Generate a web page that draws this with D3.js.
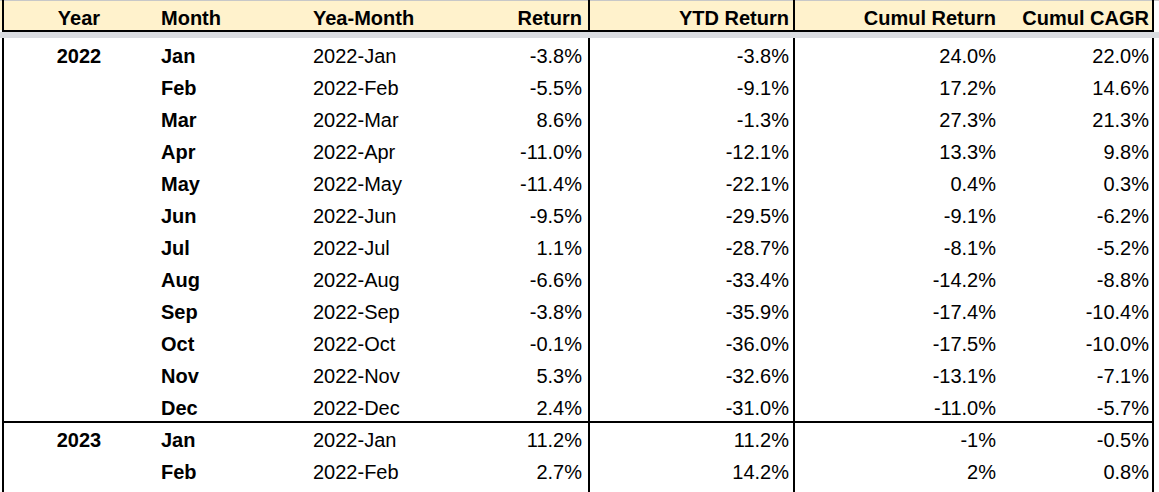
<!DOCTYPE html>
<html>
<head>
<meta charset="utf-8">
<script src="https://cdn.jsdelivr.net/npm/d3@7"></script>
<style>
  body { margin: 0; background: #fff; }
  text { font-family: "Liberation Sans", Arial, sans-serif; font-size: 20px; fill: #000; }
</style>
</head>
<body>
<script>
// table content
var headers = ["Year", "Month", "Yea-Month", "Return", "YTD Return", "Cumul Return", "Cumul CAGR"];
var years = ["2022", "", "", "", "", "", "", "", "", "", "", "", "2023", ""];
var months = ["Jan", "Feb", "Mar", "Apr", "May", "Jun", "Jul", "Aug", "Sep", "Oct", "Nov", "Dec", "Jan", "Feb"];
var yearMonth = ["2022-Jan", "2022-Feb", "2022-Mar", "2022-Apr", "2022-May", "2022-Jun", "2022-Jul",
  "2022-Aug", "2022-Sep", "2022-Oct", "2022-Nov", "2022-Dec", "2022-Jan", "2022-Feb"];
var returns = ["-3.8%", "-5.5%", "8.6%", "-11.0%", "-11.4%", "-9.5%", "1.1%", "-6.6%", "-3.8%", "-0.1%", "5.3%", "2.4%", "11.2%", "2.7%"];
var ytdReturn = ["-3.8%", "-9.1%", "-1.3%", "-12.1%", "-22.1%", "-29.5%", "-28.7%", "-33.4%", "-35.9%", "-36.0%", "-32.6%", "-31.0%", "11.2%", "14.2%"];
var cumulReturn = ["24.0%", "17.2%", "27.3%", "13.3%", "0.4%", "-9.1%", "-8.1%", "-14.2%", "-17.4%", "-17.5%", "-13.1%", "-11.0%", "-1%", "2%"];
var cumulCagr = ["22.0%", "14.6%", "21.3%", "9.8%", "0.3%", "-6.2%", "-5.2%", "-8.8%", "-10.4%", "-10.0%", "-7.1%", "-5.7%", "-0.5%", "0.8%"];

var width = 1159, height = 492;
var headH = 30, freezeH = 6, rowH = 32;

// column anchors and alignment
var cols = [
  {key: "year", x: 79, anchor: "middle", bold: true, vals: years},
  {key: "month", x: 161, anchor: "start", bold: true, vals: months},
  {key: "ym", x: 313, anchor: "start", bold: false, vals: yearMonth},
  {key: "ret", x: 582, anchor: "end", bold: false, vals: returns},
  {key: "ytd", x: 789, anchor: "end", bold: false, vals: ytdReturn},
  {key: "cum", x: 996, anchor: "end", bold: false, vals: cumulReturn},
  {key: "cagr", x: 1149, anchor: "end", bold: false, vals: cumulCagr}
];

var svg = d3.select("body").append("svg")
    .attr("width", width).attr("height", height);

var top0 = headH + 2 + freezeH;
var y = d3.scaleBand()
    .domain(d3.range(months.length))
    .range([top0, top0 + months.length * rowH]);

// header background
svg.append("rect").attr("x", 0).attr("y", 0).attr("width", 1154).attr("height", headH)
    .attr("fill", "#fff2cc");
svg.append("line").attr("x1", 0).attr("x2", width).attr("y1", 0.5).attr("y2", 0.5)
    .attr("stroke", "#c8c8c8").attr("stroke-width", 1);

// vertical borders
var vlines = [3, 589, 794, 1153];
svg.selectAll(".vline")
    .data(vlines)
    .enter()
    .append("line")
    .attr("class", "vline")
    .attr("x1", function(d){ return d; })
    .attr("x2", function(d){ return d; })
    .attr("y1", 0)
    .attr("y2", height)
    .attr("stroke", "#000")
    .attr("stroke-width", 2);

// header bottom border + frozen band
svg.append("line").attr("x1", 2).attr("x2", 1154).attr("y1", headH + 1).attr("y2", headH + 1)
    .attr("stroke", "#000").attr("stroke-width", 2);
svg.append("rect").attr("x", 0).attr("y", headH + 2).attr("width", width).attr("height", freezeH)
    .attr("fill", "#dadce0");

// year divider
svg.append("line").attr("x1", 2).attr("x2", 1154)
    .attr("y1", y(12)).attr("y2", y(12))
    .attr("stroke", "#000").attr("stroke-width", 2);

// header labels
svg.selectAll(".head")
    .data(cols)
    .enter()
    .append("text")
    .attr("class", "head")
    .attr("x", function(d){ return d.x; })
    .attr("y", 25)
    .attr("text-anchor", function(d){ return d.anchor; })
    .attr("font-weight", "bold")
    .text(function(d, i){ return headers[i]; });

// body cells
cols.forEach(function(c){
  svg.append("g").selectAll("text")
      .data(c.vals)
      .enter()
      .append("text")
      .attr("x", c.x)
      .attr("y", function(d, i){ return y(i) + 24.5; })
      .attr("text-anchor", c.anchor)
      .attr("font-weight", c.bold ? "bold" : "normal")
      .text(function(d){ return d; });
});
</script>
</body>
</html>
